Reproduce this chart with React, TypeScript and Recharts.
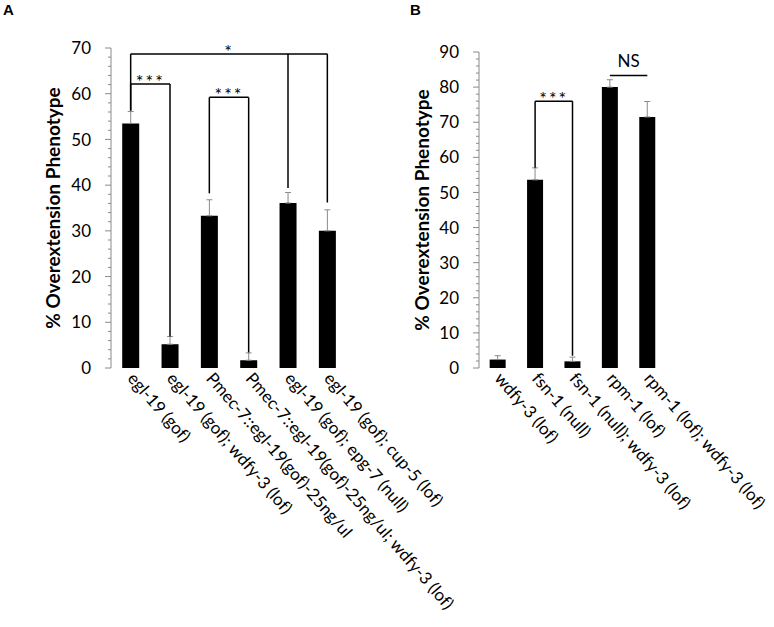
import { BarChart, Bar, XAxis, YAxis, ErrorBar, ReferenceLine, Label } from 'recharts';

const FONT = 'Lato, "Open Sans", sans-serif';
const GREY = '#8a8a8a';

// Panel A
const categoriesA = [
  'egl-19 (gof)',
  'egl-19 (gof); wdfy-3 (lof)',
  'Pmec-7::egl-19(gof)-25ng/ul',
  'Pmec-7::egl-19(gof)-25ng/ul; wdfy-3 (lof)',
  'egl-19 (gof); epg-7 (null)',
  'egl-19 (gof); cup-5 (lof)'
];
const valuesA = [53.5, 5.2, 33.3, 1.7, 36.1, 30.0];
const errorsA = [2.6, 1.7, 3.5, 1.6, 2.3, 4.6];
const yMaxA = 70;
const bracketsA = [
  { label: '*', y: 68.7, from: 0, to: 5, drops: [[0, 56.3], [4, 39.4], [5, 36.2]] },
  { label: '***', y: 62.1, from: 0, to: 1, drops: [[0, 56.3], [1, 6.9]] },
  { label: '***', y: 59.2, from: 2, to: 3, drops: [[2, 38.2], [3, 3.4]] }
];

// Panel B
const categoriesB = [
  'wdfy-3 (lof)',
  'fsn-1 (null)',
  'fsn-1 (null); wdfy-3 (lof)',
  'rpm-1 (lof)',
  'rpm-1 (lof); wdfy-3 (lof)'
];
const valuesB = [2.4, 53.6, 1.9, 80.0, 71.5];
const errorsB = [1.1, 3.4, 1.2, 2.1, 4.4];
const yMaxB = 90;
const bracketsB = [
  { label: '***', y: 76, from: 1, to: 2, drops: [[1, 57.0], [2, 3.5]] },
  { label: 'NS', y: 83.3, from: 3, to: 4, drops: [] as number[][] }
];

const YTick = (props: any) => {
  const { x, y, payload } = props;
  const major = payload.value % 10 === 0;
  return (
    <g>
      <line x1={x - (major ? 6 : 3)} x2={x} y1={y} y2={y} stroke={GREY} strokeWidth={1} />
      {major && (
        <text x={x - 20} y={y} dy="0.36em" textAnchor="end" fontSize={17} fontFamily={FONT} fill="#000">
          {payload.value}
        </text>
      )}
    </g>
  );
};

const XTick = (props: any) => {
  const { x, y, payload } = props;
  const tx = x - 4;
  const ty = y + 11;
  return (
    <text x={tx} y={ty} transform={`rotate(49, ${tx}, ${ty})`} textAnchor="start" fontSize={17} fontFamily={FONT} fill="#000">
      {payload.value}
    </text>
  );
};

type Bracket = { label: string; y: number; from: number; to: number; drops: number[][] };

const Panel = ({ categories, values, errors, brackets, yMax, width, marginTop, marginRight, yAxisWidth, labelDx }: any) => {
  const data = categories.map((name: string, i: number) => ({ name, value: values[i], err: [0, errors[i]] }));
  const n = categories.length;
  const frameTicks = Array.from({ length: n + 1 }, (_, i) => i);
  const yTicks = Array.from({ length: yMax / 2 + 1 }, (_, i) => i * 2);

  return (
    <BarChart
      width={width}
      height={627}
      data={data}
      margin={{ top: marginTop, right: marginRight, left: 0, bottom: 0 }}
      barCategoryGap="28.5%"
    >
      <XAxis
        xAxisId="frame"
        type="number"
        domain={[0, n]}
        ticks={frameTicks}
        allowDataOverflow
        height={0}
        tick={false}
        tickSize={4}
        axisLine={{ stroke: GREY }}
        tickLine={{ stroke: GREY }}
      />
      <XAxis
        dataKey="name"
        interval={0}
        height={259}
        axisLine={false}
        tickLine={false}
        tickSize={0}
        tickMargin={0}
        tick={<XTick />}
      />
      <YAxis
        domain={[0, yMax]}
        ticks={yTicks}
        interval={0}
        width={yAxisWidth}
        tickSize={0}
        tickMargin={0}
        axisLine={{ stroke: GREY }}
        tickLine={false}
        tick={<YTick />}
      >
        <Label
          value="% Overextension Phenotype"
          angle={-90}
          position="center"
          dx={labelDx}
          style={{ fontFamily: FONT, fontSize: 19, fontWeight: 700, fill: '#000', textAnchor: 'middle' }}
        />
      </YAxis>
      <Bar dataKey="value" fill="#000" isAnimationActive={false}>
        <ErrorBar dataKey="err" width={3} stroke={GREY} strokeWidth={1} direction="y" />
      </Bar>
      {brackets.map((b: Bracket, i: number) => (
        <ReferenceLine
          key={`h${i}`}
          segment={[{ x: categories[b.from], y: b.y }, { x: categories[b.to], y: b.y }]}
          stroke="#000"
          strokeWidth={1.5}
          ifOverflow="visible"
          label={{
            value: b.label,
            position: 'top',
            offset: b.label === 'NS' ? 9 : -4,
            fontSize: b.label === 'NS' ? 17 : 18,
            fontFamily: FONT,
            fill: '#000',
            letterSpacing: b.label === 'NS' ? 0 : 2
          }}
        />
      ))}
      {brackets.flatMap((b: Bracket, i: number) =>
        b.drops.map((d, j) => (
          <ReferenceLine
            key={`d${i}-${j}`}
            segment={[{ x: categories[d[0]], y: b.y }, { x: categories[d[0]], y: d[1] }]}
            stroke="#000"
            strokeWidth={1.5}
            ifOverflow="visible"
          />
        ))
      )}
    </BarChart>
  );
};

export default function App() {
  return (
    <div style={{ position: 'absolute', left: 0, top: 0, width: 774, height: 627, background: '#fff', fontFamily: FONT }}>
      <div style={{ position: 'absolute', left: 3, top: 1, fontSize: 15, fontWeight: 700, fontFamily: 'Arial, "Liberation Sans", sans-serif' }}>A</div>
      <div style={{ position: 'absolute', left: 410, top: 1, fontSize: 15, fontWeight: 700, fontFamily: 'Arial, "Liberation Sans", sans-serif' }}>B</div>
      <div style={{ position: 'absolute', left: 0, top: 0 }}>
        <Panel
          categories={categoriesA}
          values={valuesA}
          errors={errorsA}
          brackets={bracketsA}
          yMax={yMaxA}
          width={774}
          marginTop={48}
          marginRight={427}
          yAxisWidth={111}
          labelDx={-2}
        />
      </div>
      <div style={{ position: 'absolute', left: 390, top: 0 }}>
        <Panel
          categories={categoriesB}
          values={valuesB}
          errors={errorsB}
          brackets={bracketsB}
          yMax={yMaxB}
          width={384}
          marginTop={52}
          marginRight={108}
          yAxisWidth={89}
          labelDx={-12}
        />
      </div>
    </div>
  );
}
